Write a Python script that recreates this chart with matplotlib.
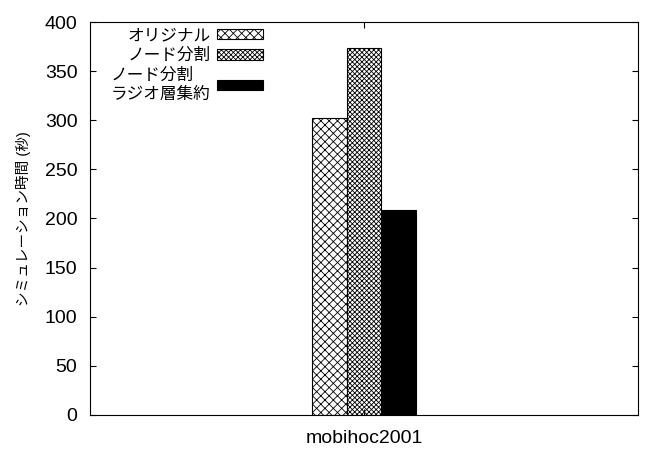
import numpy as np
import matplotlib
matplotlib.use('Agg')
import matplotlib.pyplot as plt

plt.rcParams['font.family'] = ['Liberation Sans', 'Noto Sans CJK JP', 'DejaVu Sans']
plt.rcParams['hatch.linewidth'] = 0.6

# data
categories = ['mobihoc2001']
series_names = ['オリジナル', 'ノード分割', 'ノード分割\nラジオ層集約']
series_values = [[302], [374], [209]]
hatches = ['xxxx', 'xxxxxxx', '']
facecolors = ['white', 'white', 'black']

fig = plt.figure(figsize=(6.47, 4.5), dpi=100)
ax = fig.add_axes([0.139, 0.078, 0.847, 0.873])

x = np.arange(len(categories))
w = 0.126
handles = []
for i, name in enumerate(series_names):
    b = ax.bar(x + (i - 1) * w, series_values[i], w, color=facecolors[i],
               edgecolor='black', hatch=hatches[i], linewidth=0.8, label=name)
    handles.append(b)

ax.set_xlim(-1, 1)
ax.set_ylim(0, 400)
ax.set_yticks(np.arange(0, 401, 50))
ax.set_xticks(x)
ax.set_xticklabels(categories)
ax.tick_params(direction='in', length=4, labelsize=14, top=True, right=True, pad=9)
ax.tick_params(axis='x', pad=11)
ax.set_ylabel('シミュレーション時間 (秒)', fontsize=10.5, labelpad=10)

leg = ax.legend(handles=handles, loc='upper right', markerfirst=False,
                frameon=False, fontsize=12, handlelength=2.75,
                handleheight=0.6, handletextpad=0.4, labelspacing=0.3,
                borderpad=0, borderaxespad=0, bbox_to_anchor=(0.316, 0.985))
leg.get_texts()[2].set_linespacing(1.3)

fig.savefig('out.png', dpi=100)
